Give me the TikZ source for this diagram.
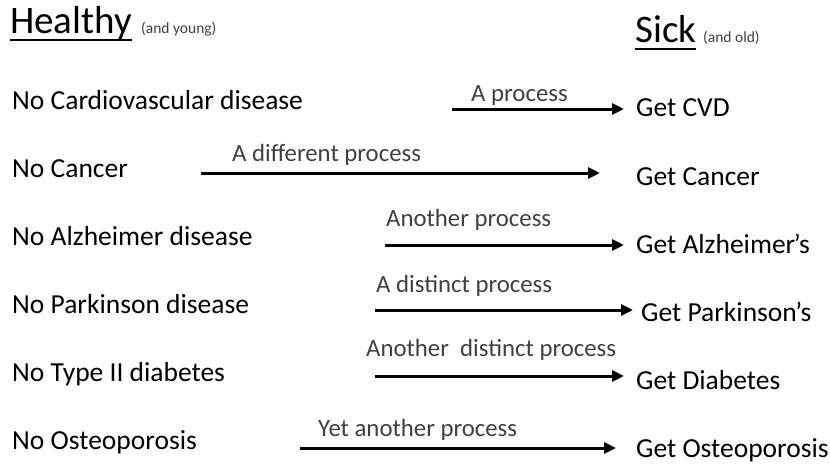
\documentclass[tikz,border=0pt]{standalone}
\usepackage{fontspec}
\setmainfont{Carlito}
\usetikzlibrary{arrows.meta}
\definecolor{proc}{HTML}{404040}
\begin{document}
\begin{tikzpicture}[x=1pt,y=-1pt,
  lbl/.style={anchor=base west,inner sep=0pt,font=\fontsize{27.5}{30}\selectfont},
  plbl/.style={anchor=base west,inner sep=0pt,text=proc,font=\fontsize{24.8}{28}\selectfont},
  head/.style={anchor=base west,inner sep=0pt,font=\fontsize{39}{44}\selectfont},
  small/.style={anchor=base west,inner sep=0pt,text=proc,font=\fontsize{15.5}{18}\selectfont},
  arr/.style={line width=3pt,-{Triangle[length=12pt,width=11pt]}}]
\useasboundingbox (0,0) rectangle (830,464);
% headers
\node[head] (hl) at (10,33) {Healthy};
\node[small] (hy) at (141,33) {(and young)};
\node[head] (sk) at (635,42) {Sick};
\node[small] (so) at (703,42) {(and old)};
\draw[line width=2pt] ([yshift=-7pt]hl.base west) -- ([yshift=-7pt]hl.base east);
\draw[line width=2pt] ([yshift=-7pt]sk.base west) -- ([yshift=-7pt]sk.base east);
% left labels
\node[lbl] (l1) at (12,109) {No Cardiovascular disease};
\node[lbl] (l2) at (12,177) {No Cancer};
\node[lbl] (l3) at (12,245) {No Alzheimer disease};
\node[lbl] (l4) at (12,313) {No Parkinson disease};
\node[lbl] (l5) at (12,381) {No Type II diabetes};
\node[lbl] (l6) at (12,449) {No Osteoporosis};
% right labels
\node[lbl] (r1) at (636,116) {Get CVD};
\node[lbl] (r2) at (636,185) {Get Cancer};
\node[lbl] (r3) at (636,253) {Get Alzheimer\kern-1.5pt’s};
\node[lbl] (r4) at (641,321) {Get Parkinson\kern-1.5pt’s};
\node[lbl] (r5) at (636,389) {Get Diabetes};
\node[lbl] (r6) at (636,457) {Get Osteoporosis};
% process labels
\node[plbl] (p1) at (471,101) {A process};
\node[plbl] (p2) at (232,161) {A different process};
\node[plbl] (p3) at (386,226) {Another process};
\node[plbl] (p4) at (376,292) {A distinct process};
\node[plbl] (p5) at (366,356) {Another\ \ distinct process};
\node[plbl] (p6) at (318,436) {Yet another process};
% arrow coordinates
\coordinate (s1) at (452,109); \coordinate (e1) at (624,109);
\coordinate (s2) at (201,173); \coordinate (e2) at (600,173);
\coordinate (s3) at (385,245); \coordinate (e3) at (624,245);
\coordinate (s4) at (375,310); \coordinate (e4) at (633,310);
\coordinate (s5) at (375,376); \coordinate (e5) at (624,376);
\coordinate (s6) at (300,448); \coordinate (e6) at (616,448);
\foreach \i in {1,...,6} \draw[arr] (s\i) -- (e\i);
\end{tikzpicture}
\end{document}
